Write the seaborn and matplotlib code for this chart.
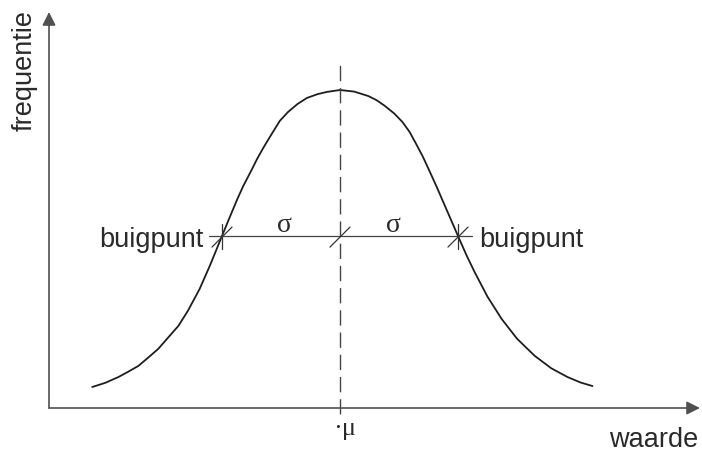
import numpy as np
import pandas as pd
import matplotlib
matplotlib.use("Agg")
import matplotlib.pyplot as plt
import seaborn as sns

# ---- data (x in units of sigma around mu, y = relative frequency) ----
curve_x = [-2.10, -1.99, -1.88, -1.80, -1.71, -1.63, -1.54, -1.46, -1.37, -1.29,
           -1.19, -1.10, -1.00, -0.93, -0.87, -0.82, -0.75, -0.70, -0.65, -0.59,
           -0.51, -0.44, -0.36, -0.28, -0.19, -0.11, 0.00,
           0.12, 0.24, 0.31, 0.38, 0.46, 0.53, 0.59, 0.64, 0.70, 0.75,
           0.82, 0.89, 1.00, 1.07, 1.14, 1.25, 1.37, 1.50, 1.65, 1.79,
           1.93, 2.04, 2.14]
curve_y = [0.066, 0.079, 0.097, 0.113, 0.132, 0.157, 0.186, 0.220, 0.258, 0.305,
           0.374, 0.450, 0.541, 0.604, 0.657, 0.698, 0.748, 0.785, 0.818, 0.855,
           0.903, 0.931, 0.956, 0.975, 0.987, 0.994, 1.000,
           0.995, 0.981, 0.968, 0.950, 0.926, 0.899, 0.868, 0.834, 0.792, 0.752,
           0.695, 0.635, 0.541, 0.482, 0.428, 0.350, 0.280, 0.218, 0.164, 0.125,
           0.097, 0.080, 0.069]
mu = 0.0
sigma = 1.0
inflection_height = 0.541
point_label = "buigpunt"
sigma_label = "σ"
mu_label = "·μ"
x_label = "waarde"
y_label = "frequentie"

df = pd.DataFrame({"waarde": curve_x, "frequentie": curve_y})

sns.set_style("white")
plt.rcParams["font.family"] = ["Liberation Sans", "DejaVu Sans"]

W, H = 702, 452
fig = plt.figure(figsize=(W / 100, H / 100), dpi=100)
ax = fig.add_axes([49 / W, (H - 409) / H, (700 - 49) / W, (409 - 13) / H])
x0, x1 = (49 - 340) / 118, (700 - 340) / 118
y0, y1 = 0.0, (409 - 13) / 318
ax.set_xlim(x0, x1)
ax.set_ylim(y0, y1)
for s in ax.spines.values():
    s.set_visible(False)
ax.set_xticks([])
ax.set_yticks([])

axis_col = "#505050"
ink = "#1e1e1e"

# axes arrows
arrow_kw = dict(arrowstyle="-|>", color=axis_col, lw=1.2, shrinkA=0, shrinkB=0,
                mutation_scale=20)
ax.annotate("", xy=(1, 0), xytext=(0, 0), xycoords="axes fraction",
            textcoords="axes fraction", arrowprops=arrow_kw, annotation_clip=False)
ax.annotate("", xy=(0, 1), xytext=(0, 0), xycoords="axes fraction",
            textcoords="axes fraction", arrowprops=arrow_kw, annotation_clip=False)

# the curve
sns.lineplot(data=df, x="waarde", y="frequentie", ax=ax, color=ink, lw=1.3,
             sort=False, estimator=None, solid_joinstyle="round",
             solid_capstyle="round")
ax.set_xlabel("")
ax.set_ylabel("")

# dashed mean line
ax.plot([mu, mu], [-0.02, 1.082], color="#444444", lw=1.0,
        dashes=(11, 5), clip_on=False)

# sigma line
left_x = mu - sigma
right_x = mu + sigma
ax.plot([mu - 1.107 * sigma, mu + 1.119 * sigma], [inflection_height] * 2,
        color="#444444", lw=0.9)

# cross ticks at inflection points and mean
dz, dy_lo, dy_hi = 0.085, 0.035, 0.028
for xc in (left_x, right_x):
    ax.plot([xc, xc], [inflection_height - 0.041, inflection_height + 0.038],
            color="#333333", lw=0.9)
for xc in (left_x, mu, right_x):
    ax.plot([xc - dz, xc + dz], [inflection_height - dy_lo, inflection_height + dy_hi],
            color="#333333", lw=0.9)

txt_col = "#2a2a2a"
fs = 19.5
base_y = (409 - 247) / 318
ax.text((203 - 340) / 118, base_y, point_label, ha="right", va="baseline",
        fontsize=fs, color=txt_col)
ax.text((479 - 340) / 118, base_y, point_label, ha="left", va="baseline",
        fontsize=fs, color=txt_col)

serif = ["Liberation Serif", "DejaVu Serif"]
ax.text(mu - 0.47 * sigma, (409 - 226) / 318, sigma_label, ha="center", va="center",
        fontsize=20, family=serif, color=txt_col)
ax.text(mu + 0.45 * sigma, (409 - 226) / 318, sigma_label, ha="center", va="center",
        fontsize=20, family=serif, color=txt_col)
ax.text(mu + 0.04, (409 - 429) / 318, mu_label, ha="center", va="center",
        fontsize=19, family=serif, color=txt_col, clip_on=False)

ax.text((698 - 340) / 118, (409 - 447) / 318, x_label, ha="right", va="baseline",
        fontsize=fs, color=txt_col, clip_on=False)
ax.text((25 - 340) / 118, (409 - 71) / 318, y_label, ha="center", va="center",
        rotation=90, fontsize=fs, color=txt_col, clip_on=False)

fig.savefig("out.png", dpi=100)
